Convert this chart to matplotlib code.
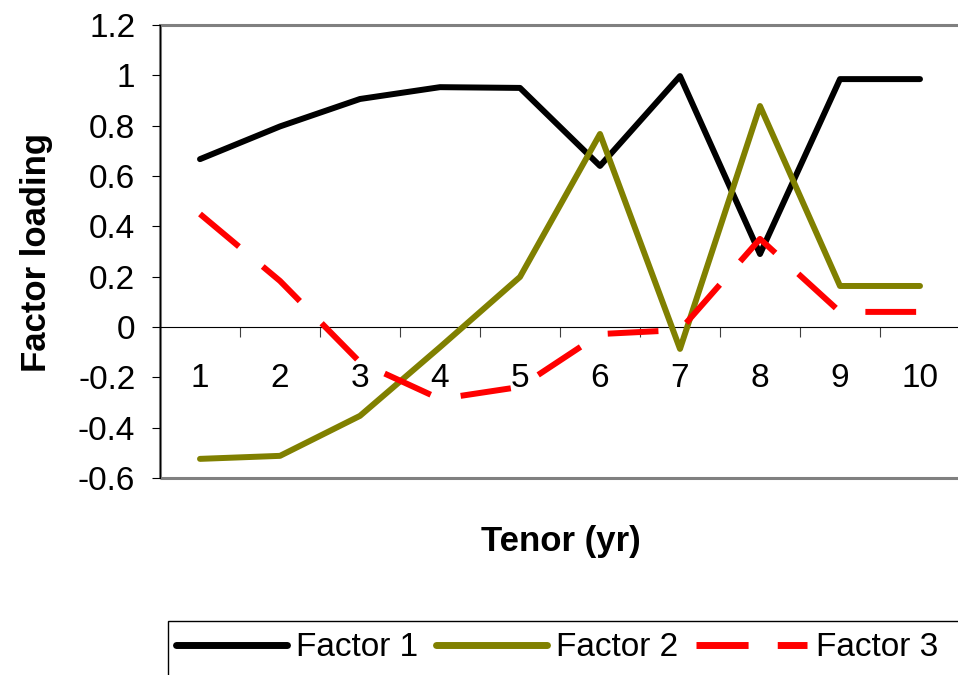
import matplotlib.pyplot as plt
from matplotlib.lines import Line2D
from matplotlib.patches import Rectangle

plt.rcParams['font.family'] = ['Liberation Sans', 'DejaVu Sans']

tenor = [1, 2, 3, 4, 5, 6, 7, 8, 9, 10]
factor1 = [0.667, 0.797, 0.906, 0.953, 0.95, 0.64, 0.997, 0.29, 0.985, 0.985]
factor2 = [-0.524, -0.512, -0.353, -0.08, 0.199, 0.767, -0.087, 0.878, 0.163, 0.163]
factor3 = [0.449, 0.183, -0.14, -0.286, -0.238, -0.028, -0.012, 0.35, 0.06, 0.06]
series_names = ['Factor 1', 'Factor 2', 'Factor 3']
yticks = [-0.6, -0.4, -0.2, 0, 0.2, 0.4, 0.6, 0.8, 1.0, 1.2]
ytick_labels = ['-0.6', '-0.4', '-0.2', '0', '0.2', '0.4', '0.6', '0.8', '1', '1.2']

W, H = 958, 675
fig = plt.figure(figsize=(W / 100, H / 100), dpi=100)
ax = fig.add_axes([160 / W, 1 - 478 / H, 800 / W, 453 / H])

olive = '#808000'
ax.plot(tenor, factor1, color='black', lw=4.3, solid_capstyle='round',
        solid_joinstyle='round', zorder=3)
ax.plot(tenor, factor2, color=olive, lw=4.3, solid_capstyle='round',
        solid_joinstyle='round', zorder=3)
ax.plot(tenor, factor3, color='red', lw=4.3, dashes=(8.5, 5.2),
        dash_capstyle='butt', zorder=4)

ax.set_xlim(0.5, 10.5)
ax.set_ylim(-0.6, 1.2)

# plot area frame (grey) and axes lines (black)
for s in ['top', 'right']:
    ax.spines[s].set_visible(False)
ax.spines['left'].set_color('black')
ax.spines['left'].set_linewidth(0.8)
ax.spines['bottom'].set_position(('data', 0))
ax.spines['bottom'].set_color('black')
ax.spines['bottom'].set_linewidth(0.8)
ax.add_patch(Rectangle((0, 0), 1, 1, transform=ax.transAxes, fill=False,
                       edgecolor='#808080', lw=2.2, clip_on=False, zorder=1))

ax.set_yticks(yticks)
ax.set_yticklabels(ytick_labels)
ax.tick_params(axis='y', direction='out', length=5.8, width=0.8, pad=12,
               labelsize=24)

ax.set_xticks([i + 0.5 for i in tenor])
ax.set_xticklabels([])
ax.tick_params(axis='x', which='major', direction='out', length=7.2,
               width=0.8, color='#404040')
ax.set_xticks(tenor, minor=True)
ax.set_xticklabels([str(t) for t in tenor], minor=True)
ax.tick_params(axis='x', which='minor', length=0, pad=26, labelsize=24)

fig.text(37 / W, 1 - 252 / H, 'Factor loading', rotation=90,
         fontsize=25, fontweight='bold', ha='center', va='center')
fig.text(561 / W, 1 - 542 / H, 'Tenor (yr)',
         fontsize=25, fontweight='bold', ha='center', va='center')

# legend
fig.add_artist(Rectangle((168 / W, -0.1), 1, 0.1 + (H - 621) / H,
                         transform=fig.transFigure, fill=False,
                         edgecolor='black', lw=1))
handles = [
    Line2D([], [], color='black', lw=5, solid_capstyle='round'),
    Line2D([], [], color=olive, lw=5, solid_capstyle='round'),
    Line2D([], [], color='red', lw=5, dashes=(7.5, 4.2), dash_capstyle='butt'),
]
fig.legend(handles, series_names, loc='center left',
           bbox_to_anchor=(176 / W, 1 - 648 / H), ncol=3, frameon=False,
           fontsize=24, handlelength=3.33, handletextpad=0.27,
           columnspacing=0.54, borderpad=0, borderaxespad=0)

fig.savefig('out.png', dpi=100)
